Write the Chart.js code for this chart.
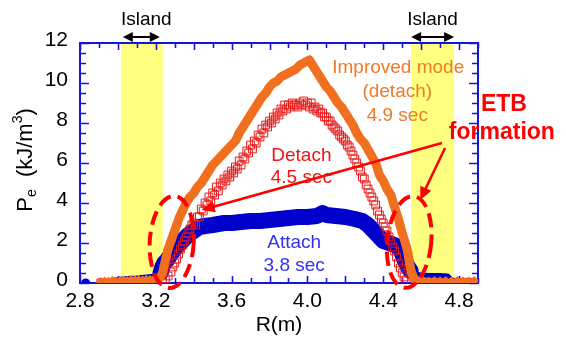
<!DOCTYPE html>
<html><head><meta charset="utf-8">
<script src="https://cdn.jsdelivr.net/npm/chart.js@4.4.1/dist/chart.umd.min.js"></script>
<style>html,body{margin:0;padding:0;background:#fff}</style>
</head><body>
<canvas id="c" width="566" height="340"></canvas>
<script>
// ---- data (R in m, Pe in kJ/m^3) ----
const xTickVals = [2.8, 3.2, 3.6, 4.0, 4.4, 4.8];
const xTickLabels = ['2.8', '3.2', '3.6', '4.0', '4.4', '4.8'];
const yTickVals = [0, 2, 4, 6, 8, 10, 12];
const yTickLabels = ['0', '2', '4', '6', '8', '10', '12'];
const islandBands = [[3.016, 3.237], [4.547, 4.774]];

const improvedPts = [
 [2.91,0.05],[2.93,0.08],[2.95,0.06],[2.97,0.1],[2.99,0.08],[3.01,0.1],[3.03,0.12],[3.05,0.1],[3.07,0.14],[3.09,0.12],
 [3.11,0.15],[3.13,0.13],[3.15,0.16],[3.17,0.15],[3.19,0.18],[3.21,0.2],[3.225,0.3],[3.235,0.5],[3.245,0.9],[3.255,1.3],
 [3.265,1.7],[3.28,2.1],[3.295,2.5],[3.31,2.9],[3.325,3.3],[3.34,3.6],[3.36,4.0],[3.38,4.3],[3.40,4.5],[3.42,4.8],
 [3.44,5.0],[3.46,5.3],[3.48,5.6],[3.50,5.9],[3.52,6.1],[3.54,6.3],[3.56,6.5],[3.58,6.7],[3.60,6.9],[3.62,7.1],
 [3.64,7.5],[3.66,7.8],[3.68,8.1],[3.70,8.4],[3.72,8.7],[3.74,9.0],[3.76,9.3],[3.78,9.5],[3.80,9.8],[3.82,10.0],
 [3.84,10.1],[3.86,10.3],[3.88,10.4],[3.90,10.5],[3.92,10.6],[3.94,10.7],[3.96,10.9],[3.98,11.0],[4.00,11.1],[4.01,11.15],
 [4.02,11.0],[4.04,10.7],[4.06,10.4],[4.08,10.1],[4.10,9.8],[4.12,9.6],[4.14,9.3],[4.16,9.0],[4.18,8.8],[4.20,8.5],
 [4.22,8.2],[4.24,7.9],[4.26,7.5],[4.28,7.2],[4.30,7.0],[4.33,6.5],[4.36,6.0],[4.38,5.4],[4.40,5.1],[4.42,4.7],
 [4.44,4.4],[4.46,3.8],[4.48,3.2],[4.50,2.5],[4.52,1.9],[4.53,1.5],[4.54,0.9],[4.55,0.5],[4.565,0.2],[4.58,0.12],
 [4.61,0.1],[4.64,0.08],[4.67,0.1],[4.70,0.09],[4.73,0.1],[4.76,0.08],[4.79,0.1],[4.82,0.09],[4.85,0.08],[4.88,0.1]
];

const detachPts = [
 [2.91,0.0],[2.94,0.02],[2.97,0.0],[3.00,0.03],[3.03,0.02],[3.06,0.04],[3.09,0.03],[3.12,0.05],[3.15,0.04],[3.18,0.06],
 [3.21,0.08],[3.235,0.15],[3.25,0.2],[3.265,0.35],[3.28,0.55],[3.29,0.8],[3.30,1.0],[3.31,1.2],[3.32,1.45],[3.33,1.7],
 [3.34,1.9],[3.35,2.1],[3.36,2.3],[3.37,2.5],[3.38,2.7],[3.39,2.9],[3.40,3.0],[3.42,3.3],[3.44,3.7],[3.46,4.0],
 [3.48,4.3],[3.50,4.5],[3.52,4.8],[3.54,5.0],[3.56,5.2],[3.58,5.4],[3.60,5.6],[3.62,5.8],[3.64,6.1],[3.66,6.3],
 [3.68,6.6],[3.70,6.9],[3.72,7.1],[3.74,7.4],[3.76,7.7],[3.78,7.9],[3.80,8.1],[3.82,8.3],[3.84,8.5],[3.86,8.7],
 [3.88,8.9],[3.90,8.9],[3.92,9.0],[3.94,8.9],[3.96,9.0],[3.98,9.1],[4.00,9.0],[4.02,9.0],[4.04,8.8],[4.06,8.7],
 [4.08,8.5],[4.10,8.3],[4.12,8.1],[4.14,7.8],[4.16,7.6],[4.18,7.3],[4.20,7.1],[4.22,6.8],[4.24,6.4],[4.26,6.0],
 [4.28,5.6],[4.30,5.2],[4.32,4.7],[4.34,4.3],[4.36,3.9],[4.38,3.4],[4.40,3.0],[4.42,2.6],[4.44,2.1],[4.46,1.6],
 [4.47,1.3],[4.48,1.0],[4.49,0.75],[4.50,0.5],[4.51,0.3],[4.52,0.15],[4.55,0.05],[4.60,0.03],[4.65,0.05],[4.70,0.02],
 [4.75,0.04],[4.80,0.03],[4.85,0.04],
 [3.41,2.9],[3.43,3.3],[3.45,3.6],[3.47,3.9],[3.49,4.1],[3.51,4.4],[3.53,4.6],[3.55,4.9],[3.57,5.1],[3.59,5.3],
 [3.61,5.5],[3.63,5.7],[3.65,5.9],[3.67,6.2],[3.69,6.5],[3.71,6.7],[3.73,7.0],[3.75,7.3],[3.77,7.5],[3.79,7.8],
 [3.81,8.0],[3.83,8.2],[3.85,8.4],[3.87,8.6],[3.89,8.7],[3.91,8.8],[3.93,8.9],[3.95,8.8],[3.97,8.9],[3.99,8.9],
 [4.01,8.8],[4.03,8.7],[4.05,8.6],[4.07,8.5],[4.09,8.3],[4.11,8.1],[4.13,7.9],[4.15,7.7],[4.17,7.4],[4.19,7.2],
 [4.21,6.9],[4.23,6.6],[4.25,6.2],[4.27,5.8],[4.29,5.3],[4.31,4.9],[4.33,4.5],[4.35,4.1],[4.37,3.6],[4.39,3.2],
 [4.41,2.8],[4.43,2.3],[4.45,1.8]
];

const attachPts = [
 [2.83,0.0],[2.87,null],[2.91,0.05],[2.95,0.1],[3.00,0.18],[3.05,0.22],[3.10,0.25],[3.15,0.3],[3.20,0.35],[3.225,0.5],
 [3.235,0.8],[3.245,1.0],[3.26,1.15],[3.28,1.45],[3.30,1.7],[3.33,2.0],[3.37,2.4],[3.40,2.6],[3.43,2.8],[3.46,2.85],
 [3.50,2.9],[3.56,3.0],[3.60,3.0],[3.65,3.05],[3.70,3.1],[3.75,3.1],[3.80,3.15],[3.85,3.2],[3.90,3.25],[3.95,3.3],
 [4.00,3.3],[4.05,3.35],[4.08,3.5],[4.10,3.4],[4.15,3.35],[4.20,3.3],[4.25,3.2],[4.29,3.1],[4.32,2.9],[4.35,2.6],
 [4.38,2.3],[4.40,2.1],[4.43,2.0],[4.46,1.9],[4.49,1.7],[4.51,1.2],[4.53,0.8],[4.545,0.6],[4.56,0.45],[4.60,0.4],
 [4.65,0.38],[4.70,0.38],[4.74,0.35],[4.76,0.15],[4.80,0.08],[4.85,0.05],[4.88,0.05]
];

const FONT = "'Liberation Sans', Arial, Helvetica, sans-serif";
const AXIS_BLUE = '#1414DC';
const ORANGE = '#F07020';
const RED = '#FF0000';

const toXY = pts => pts.map(([x, y]) => ({x, y}));

function arrow(ctx, x0, y0, x1, y1, hl, hw, both) {
  const a = Math.atan2(y1 - y0, x1 - x0);
  const head = (px, py, ang) => {
    ctx.beginPath();
    ctx.moveTo(px, py);
    ctx.lineTo(px - hl * Math.cos(ang) + hw * Math.sin(ang), py - hl * Math.sin(ang) - hw * Math.cos(ang));
    ctx.lineTo(px - hl * Math.cos(ang) - hw * Math.sin(ang), py - hl * Math.sin(ang) + hw * Math.cos(ang));
    ctx.closePath();
    ctx.fill();
  };
  const sx = both ? x0 + hl * 0.8 * Math.cos(a) : x0, sy = both ? y0 + hl * 0.8 * Math.sin(a) : y0;
  ctx.beginPath();
  ctx.moveTo(sx, sy);
  ctx.lineTo(x1 - hl * 0.8 * Math.cos(a), y1 - hl * 0.8 * Math.sin(a));
  ctx.stroke();
  head(x1, y1, a);
  if (both) head(x0, y0, a + Math.PI);
}

const annot = {
  id: 'annot',
  beforeDatasetsDraw(chart) {
    const {ctx, chartArea: a, scales: {x, y}} = chart;
    ctx.save();
    ctx.fillStyle = '#FFFF80';
    islandBands.forEach(([r0, r1]) => {
      const x0 = x.getPixelForValue(r0), x1 = x.getPixelForValue(r1);
      ctx.fillRect(x0, a.top, x1 - x0, y.getPixelForValue(0) - a.top);
    });
    // axis box and inward ticks
    ctx.strokeStyle = AXIS_BLUE;
    ctx.lineWidth = 2;
    ctx.strokeRect(a.left, a.top, a.right - a.left, a.bottom - a.top);
    ctx.lineWidth = 1.6;
    ctx.beginPath();
    for (let i = 28; i <= 49; i++) {
      const px = Math.round(x.getPixelForValue(i / 10)) + 0.5;
      const len = (i % 2 === 0) ? 7 : 5;
      ctx.moveTo(px, a.bottom); ctx.lineTo(px, a.bottom - len);
      ctx.moveTo(px, a.top); ctx.lineTo(px, a.top + len);
    }
    for (let k = 0; k <= 24; k++) {
      const py = Math.round(y.getPixelForValue(k / 2)) + 0.5;
      const len = (k % 4 === 0) ? 9 : 6;
      ctx.moveTo(a.left, py); ctx.lineTo(a.left + len, py);
      ctx.moveTo(a.right, py); ctx.lineTo(a.right - len, py);
    }
    ctx.stroke();
    ctx.restore();
  },
  afterDatasetsDraw(chart) {
    const {ctx, scales: {x, y}} = chart;
    const X = v => x.getPixelForValue(v), Y = v => y.getPixelForValue(v);
    ctx.save();
    // Island labels & double arrows
    ctx.fillStyle = '#000'; ctx.strokeStyle = '#000'; ctx.lineWidth = 2;
    ctx.font = `19px ${FONT}`; ctx.textAlign = 'center'; ctx.textBaseline = 'middle';
    ctx.fillText('Island', X(3.15), Y(13.15));
    ctx.fillText('Island', X(4.66), Y(13.15));
    arrow(ctx, X(3.026), Y(12.3), X(3.221), Y(12.3), 10, 5, true);
    arrow(ctx, X(4.547), Y(12.3), X(4.774), Y(12.3), 10, 5, true);

    // dashed ellipses
    ctx.strokeStyle = RED; ctx.lineWidth = 4; ctx.setLineDash([14, 7]);
    ctx.beginPath(); ctx.ellipse(X(3.284), Y(2.05), 22, 46, 0.06, 0, Math.PI * 2); ctx.stroke();
    ctx.beginPath(); ctx.ellipse(X(4.537), Y(2.05), 22, 46, 0.1, 0, Math.PI * 2); ctx.stroke();
    ctx.setLineDash([]);

    // ETB arrows
    ctx.fillStyle = RED; ctx.strokeStyle = RED; ctx.lineWidth = 2.5;
    arrow(ctx, X(4.71), Y(7.0), X(3.442), Y(3.65), 13, 6, false);
    arrow(ctx, X(4.726), Y(6.75), X(4.595), Y(4.15), 13, 6, false);

    // texts
    ctx.textAlign = 'center'; ctx.textBaseline = 'middle';
    ctx.fillStyle = '#F07A28'; ctx.font = `19px ${FONT}`;
    ctx.fillText('Improved mode', X(4.479), Y(10.75));
    ctx.fillText('(detach)', X(4.474), Y(9.55));
    ctx.fillText('4.9 sec', X(4.474), Y(8.35));
    ctx.fillStyle = '#F01414';
    ctx.fillText('Detach', X(3.968), Y(6.35));
    ctx.fillText('4.5 sec', X(3.968), Y(5.25));
    ctx.fillStyle = '#3232F0';
    ctx.fillText('Attach', X(3.93), Y(2.0));
    ctx.fillText('3.8 sec', X(3.93), Y(0.85));
    ctx.fillStyle = RED; ctx.font = `bold 23px ${FONT}`;
    ctx.fillText('ETB', X(5.037), Y(8.9));
    ctx.fillText('formation', X(5.026), Y(7.5));

    // y-axis title: P_e (kJ/m^3)
    ctx.fillStyle = '#000';
    ctx.translate(24, 160);
    ctx.rotate(-Math.PI / 2);
    ctx.textAlign = 'left'; ctx.textBaseline = 'alphabetic';
    const big = `22px ${FONT}`, small = `14px ${FONT}`;
    const parts = [['P', big, 0], ['e', small, 4], ['  (kJ/m', big, 0], ['3', small, -10], [')', big, 0]];
    let total = 0;
    parts.forEach(p => { ctx.font = p[1]; total += ctx.measureText(p[0]).width; });
    let cx = -total / 2;
    parts.forEach(p => { ctx.font = p[1]; ctx.fillText(p[0], cx, 8 + p[2]); cx += ctx.measureText(p[0]).width; });
    ctx.restore();
  }
};

new Chart(document.getElementById('c'), {
  type: 'scatter',
  data: {
    datasets: [
      {
        label: 'Improved mode (detach) 4.9 sec',
        data: toXY(improvedPts),
        showLine: true, order: 1,
        borderColor: ORANGE, backgroundColor: ORANGE,
        pointStyle: 'rectRot', pointRadius: 5, pointBorderWidth: 0,
        borderJoinStyle: 'round', borderCapStyle: 'round',
        segment: { borderWidth: c => Math.max(c.p0.parsed.y, c.p1.parsed.y) > 0.4 ? 9 : 4 }
      },
      {
        label: 'Detach 4.5 sec',
        data: toXY(detachPts),
        showLine: false, order: 2,
        borderColor: '#E81818', backgroundColor: 'rgba(0,0,0,0)',
        pointStyle: 'rect', pointRadius: 5.5, pointBorderWidth: 1
      },
      {
        label: 'Attach 3.8 sec',
        data: toXY(attachPts),
        showLine: true, spanGaps: false, order: 3,
        borderColor: '#0000CC', backgroundColor: '#0000CC',
        pointRadius: c => c.dataIndex === 0 ? 4.5 : 0, pointBorderWidth: 0,
        borderJoinStyle: 'round', borderCapStyle: 'round',
        segment: { borderWidth: c => Math.max(c.p0.parsed.y, c.p1.parsed.y) > 0.6 ? 16 : 5 }
      }
    ]
  },
  options: {
    responsive: false, animation: false,
    layout: { padding: { left: 0, top: 43, right: 88, bottom: 0 } },
    plugins: { legend: { display: false }, tooltip: { enabled: false } },
    scales: {
      x: {
        type: 'linear', min: 2.8, max: 4.9,
        afterBuildTicks: s => { s.ticks = xTickVals.map(v => ({value: v})); },
        afterFit: s => { s.height = 57; },
        ticks: {
          callback: (v, i) => xTickLabels[i], autoSkip: false, maxRotation: 0,
          font: { size: 21, family: FONT }, color: '#000', padding: 6
        },
        grid: { display: false, drawTicks: false },
        border: { display: false },
        title: { display: true, text: 'R(m)', color: '#000', font: { size: 21, family: FONT }, padding: { top: 0, bottom: 2 } }
      },
      y: {
        type: 'linear', min: 0, max: 12,
        afterBuildTicks: s => { s.ticks = yTickVals.map(v => ({value: v})); },
        afterFit: s => { s.width = 80; },
        ticks: {
          callback: (v, i) => yTickLabels[i], autoSkip: false,
          font: { size: 21, family: FONT }, color: '#000', padding: 12, labelOffset: -3
        },
        grid: { display: false, drawTicks: false },
        border: { display: false }
      }
    }
  },
  plugins: [annot]
});
</script>
</body></html>
